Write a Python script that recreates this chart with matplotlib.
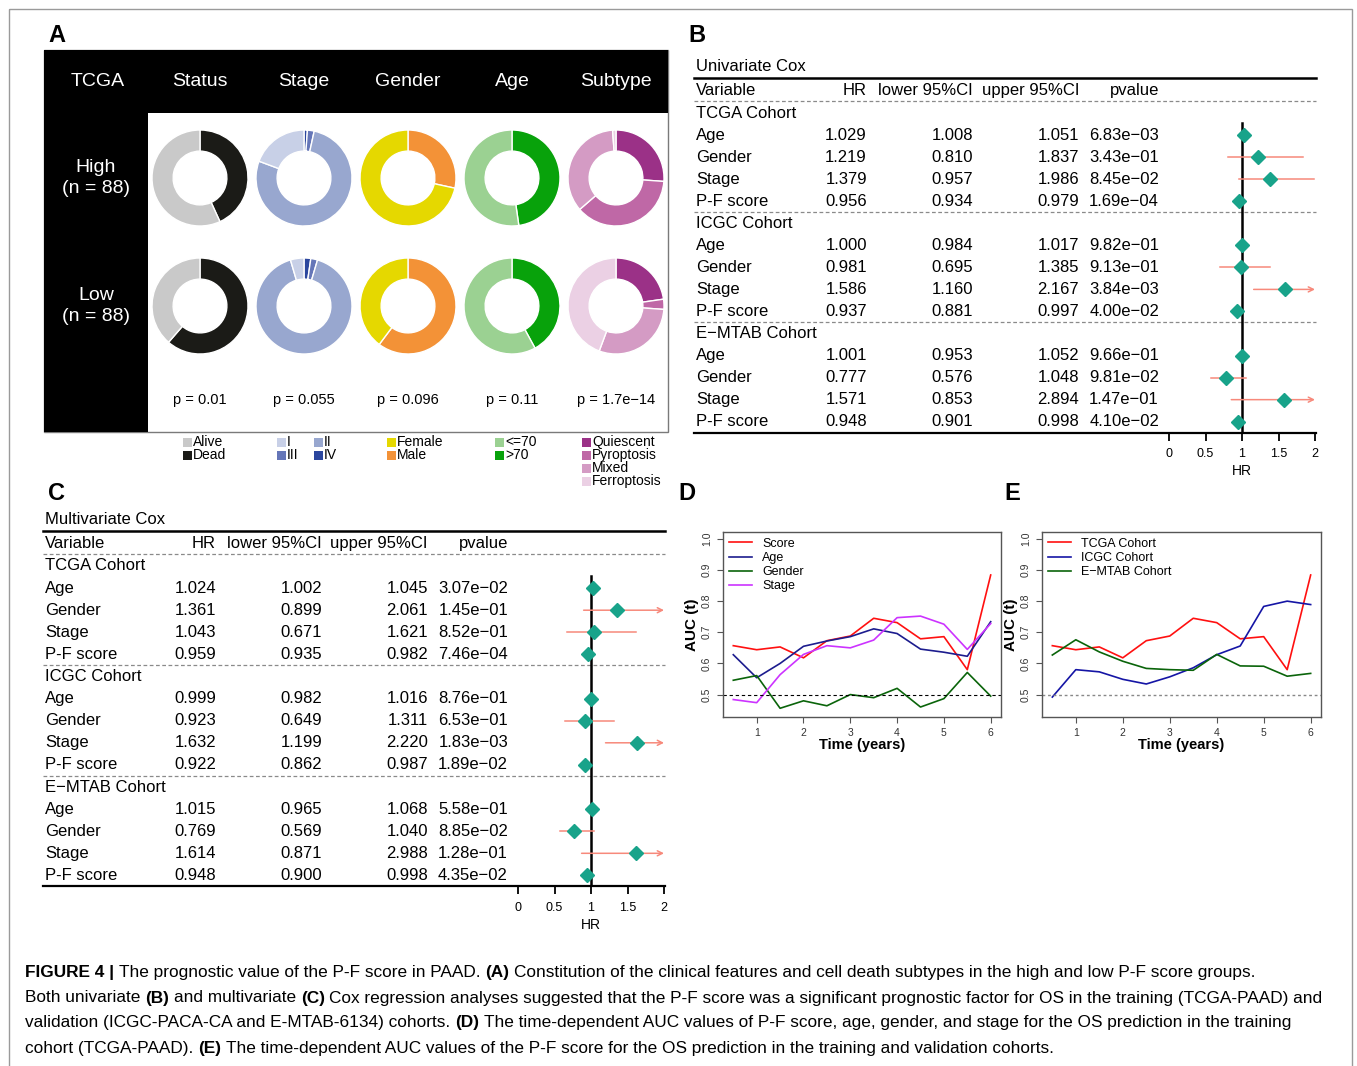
import matplotlib
matplotlib.use("Agg")
import matplotlib.pyplot as plt
import matplotlib.transforms as mtransforms
from matplotlib.patches import Rectangle
from matplotlib import font_manager

W, H = 1357, 1066
plt.rcParams['font.family'] = ['Liberation Sans', 'DejaVu Sans']

# ---------------- panel A: counts per group (legend order)
features = ["Status", "Stage", "Gender", "Age", "Subtype"]
group_labels = ["High\n(n = 88)", "Low\n(n = 88)"]
status_labels = ["Alive", "Dead"]
status_high = [50, 38]
status_low = [34, 54]
stage_labels = ["I", "II", "III", "IV"]
stage_high = [17, 68, 2, 1]
stage_low = [4, 80, 2, 2]
gender_labels = ["Female", "Male"]
gender_high = [63, 25]
gender_low = [35, 53]
age_labels = ["<=70", ">70"]
age_high = [46, 42]
age_low = [51, 37]
subtype_labels = ["Quiescent", "Pyroptosis", "Mixed", "Ferroptosis"]
subtype_high = [23, 33, 31, 1]
subtype_low = [20, 3, 26, 39]
pvalues_A = ["p = 0.01", "p = 0.055", "p = 0.096", "p = 0.11", "p = 1.7e\u221214"]

status_colors = ["#c9c9c9", "#1b1b17"]
stage_colors = ["#c8d0e7", "#98a7cf", "#6576b8", "#2b469e"]
gender_colors = ["#e5d800", "#f39237"]
age_colors = ["#9bd192", "#08a20b"]
subtype_colors = ["#9b3187", "#bf68a6", "#d49bc4", "#ebd0e4"]

# ---------------- panels B / C: Cox tables
cohorts = ["TCGA Cohort", "ICGC Cohort", "E\u2212MTAB Cohort"]
variables = ["Age", "Gender", "Stage", "P-F score"]

uni_hr = [1.029, 1.219, 1.379, 0.956, 1.000, 0.981, 1.586, 0.937, 1.001, 0.777, 1.571, 0.948]
uni_lo = [1.008, 0.810, 0.957, 0.934, 0.984, 0.695, 1.160, 0.881, 0.953, 0.576, 0.853, 0.901]
uni_up = [1.051, 1.837, 1.986, 0.979, 1.017, 1.385, 2.167, 0.997, 1.052, 1.048, 2.894, 0.998]
uni_p = ["6.83e-03", "3.43e-01", "8.45e-02", "1.69e-04", "9.82e-01", "9.13e-01",
         "3.84e-03", "4.00e-02", "9.66e-01", "9.81e-02", "1.47e-01", "4.10e-02"]

multi_hr = [1.024, 1.361, 1.043, 0.959, 0.999, 0.923, 1.632, 0.922, 1.015, 0.769, 1.614, 0.948]
multi_lo = [1.002, 0.899, 0.671, 0.935, 0.982, 0.649, 1.199, 0.862, 0.965, 0.569, 0.871, 0.900]
multi_up = [1.045, 2.061, 1.621, 0.982, 1.016, 1.311, 2.220, 0.987, 1.068, 1.040, 2.988, 0.998]
multi_p = ["3.07e-02", "1.45e-01", "8.52e-01", "7.46e-04", "8.76e-01", "6.53e-01",
           "1.83e-03", "1.89e-02", "5.58e-01", "8.85e-02", "1.28e-01", "4.35e-02"]

hr_ticks = [0, 0.5, 1, 1.5, 2]
hr_tick_labels = ["0", "0.5", "1", "1.5", "2"]

# ---------------- panels D / E: time-dependent AUC
years = [0.5, 1, 1.5, 2, 2.5, 3, 3.5, 4, 4.5, 5, 5.5, 6]
auc_score = [0.657, 0.644, 0.653, 0.618, 0.673, 0.688, 0.745, 0.731, 0.679, 0.686, 0.580, 0.884]
auc_age = [0.628, 0.554, 0.600, 0.655, 0.672, 0.686, 0.711, 0.696, 0.646, 0.636, 0.623, 0.734]
auc_gender = [0.546, 0.561, 0.456, 0.480, 0.464, 0.500, 0.490, 0.520, 0.460, 0.487, 0.571, 0.495]
auc_stage = [0.484, 0.474, 0.564, 0.629, 0.657, 0.650, 0.675, 0.747, 0.752, 0.726, 0.645, 0.728]
auc_tcga = auc_score
auc_icgc = [0.492, 0.580, 0.573, 0.549, 0.534, 0.557, 0.586, 0.628, 0.656, 0.783, 0.800, 0.789]
auc_emtab = [0.627, 0.676, 0.637, 0.607, 0.584, 0.580, 0.578, 0.629, 0.592, 0.591, 0.559, 0.568]

caption_lines = [
    [("FIGURE 4 |", True), ("The prognostic value of the P-F score in PAAD.", False), ("(A)", True),
     ("Constitution of the clinical features and cell death subtypes in the high and low P-F score groups.", False)],
    [("Both univariate", False), ("(B)", True), ("and multivariate", False), ("(C)", True),
     ("Cox regression analyses suggested that the P-F score was a significant prognostic factor for OS in the training (TCGA-PAAD) and", False)],
    [("validation (ICGC-PACA-CA and E-MTAB-6134) cohorts.", False), ("(D)", True),
     ("The time-dependent AUC values of P-F score, age, gender, and stage for the OS prediction in the training", False)],
    [("cohort (TCGA-PAAD).", False), ("(E)", True),
     ("The time-dependent AUC values of the P-F score for the OS prediction in the training and validation cohorts.", False)],
]


def pick_font(names):
    for name in names:
        try:
            font_manager.findfont(font_manager.FontProperties(family=name), fallback_to_default=False)
            return name
        except ValueError:
            pass
    return "DejaVu Sans"


fig = plt.figure(figsize=(W / 100, H / 100), dpi=100)


def px_axes(x0, y0, x1, y1):
    return fig.add_axes([x0 / W, 1 - y1 / H, (x1 - x0) / W, (y1 - y0) / H])


bg = fig.add_axes([0, 0, 1, 1])
bg.set_xlim(0, W)
bg.set_ylim(H, 0)
bg.axis("off")
bg.add_patch(Rectangle((9, 9), 1343, 1100, fill=False, ec="#9a9a9a", lw=1))

for letter, lx, ly in [("A", 48, 35), ("B", 688, 35), ("C", 48, 494), ("D", 678, 494), ("E", 1004, 494)]:
    bg.text(lx, ly, letter, fontsize=17, fontweight="bold", va="center", ha="left")

# ---------------- panel A
bg.add_patch(Rectangle((44, 50), 624, 382, fc="white", ec="#7a7a7a", lw=1))
bg.add_patch(Rectangle((44, 50), 624, 63, fc="black", ec="none"))
bg.add_patch(Rectangle((44, 50), 104, 382, fc="black", ec="none"))

col_x = [200, 304, 408, 512, 616]
row_y = [178, 306]
bg.text(98, 82, "TCGA", color="white", fontsize=14, ha="center", va="center")
for cx, name in zip(col_x, features):
    bg.text(cx, 82, name, color="white", fontsize=14, ha="center", va="center")
for cy, name in zip(row_y, group_labels):
    bg.text(96, cy, name, color="white", fontsize=14, ha="center", va="center", linespacing=1.25)

donut_data = [
    (status_high, status_low, status_colors, True),
    (stage_high, stage_low, stage_colors, True),
    (gender_high, gender_low, gender_colors, True),
    (age_high, age_low, age_colors, True),
    (subtype_high, subtype_low, subtype_colors, False),
]
r = 48
for cx, (high, low, cols, rev), ptxt in zip(col_x, donut_data, pvalues_A):
    for cy, vals in zip(row_y, [high, low]):
        ax = px_axes(cx - r, cy - r, cx + r, cy + r)
        v, c = (vals[::-1], cols[::-1]) if rev else (vals, cols)
        ax.pie(v, colors=c, startangle=90, counterclock=False, radius=1,
               wedgeprops=dict(width=0.44, edgecolor="white", linewidth=1))
        ax.set_xlim(-1, 1)
        ax.set_ylim(-1, 1)
    bg.text(cx, 400, ptxt, fontsize=10.5, ha="center", va="center")

legend_cols = [
    (183, [(442, "Alive", status_colors[0]), (455, "Dead", status_colors[1])]),
    (277, [(442, "I", stage_colors[0]), (455, "III", stage_colors[2])]),
    (314, [(442, "II", stage_colors[1]), (455, "IV", stage_colors[3])]),
    (387, [(442, "Female", gender_colors[0]), (455, "Male", gender_colors[1])]),
    (495, [(442, "<=70", age_colors[0]), (455, ">70", age_colors[1])]),
    (582, [(442 + 13 * i, lab, col) for i, (lab, col) in enumerate(zip(subtype_labels, subtype_colors))]),
]
for lx, entries in legend_cols:
    for ly, lab, col in entries:
        bg.add_patch(Rectangle((lx, ly - 4.5), 9, 9, fc=col, ec="none"))
        bg.text(lx + 10, ly, lab, fontsize=10, ha="left", va="center")


# ---------------- panels B / C
def draw_cox(x0, row0, pitch, title, hr, lo, up, pv):
    top_row, bot_row = -2.75, 14.5
    ax = px_axes(x0, row0 + pitch * top_row, x0 + 622, row0 + pitch * bot_row)
    ax.set_xlim(-475 / 73, 147 / 73)
    ax.set_ylim(bot_row, top_row)
    for s in ["top", "right", "left"]:
        ax.spines[s].set_visible(False)
    ax.spines["bottom"].set_linewidth(1.6)
    ax.set_yticks([])
    ax.set_xticks(hr_ticks)
    ax.set_xticklabels(hr_tick_labels)
    ax.tick_params(axis="x", length=6, width=1.3, labelsize=9, pad=5)
    ax.set_xlabel("HR", fontsize=10, labelpad=3)
    ax.xaxis.label.set_x((475 + 73) / 622)
    tr = mtransforms.blended_transform_factory(ax.transAxes, ax.transData)
    fs = 12
    ax.text(2 / 622, -2.1, title, transform=tr, fontsize=fs, va="center")
    ax.plot([0, 1], [-1.57, -1.57], transform=tr, color="black", lw=1.8, clip_on=False)
    header = [("Variable", 2, "left"), ("HR", 173, "right"), ("lower 95%CI", 279, "right"),
              ("upper 95%CI", 385, "right"), ("pvalue", 465, "right")]
    for txt, off, ha in header:
        ax.text(off / 622, -1.0, txt, transform=tr, fontsize=fs, va="center", ha=ha)
    for yl in [-0.53, 4.47, 9.5]:
        ax.plot([0, 1], [yl, yl], transform=tr, color="#8a8a8a", lw=0.9, ls=(0, (3, 2)), clip_on=False)
    ax.plot([1, 1], [0.45, bot_row], color="black", lw=1.8)
    rows = []
    for c, coh in enumerate(cohorts):
        ax.text(2 / 622, c * 5, coh, transform=tr, fontsize=fs, va="center")
        for v, var in enumerate(variables):
            i = c * 4 + v
            yrow = c * 5 + 1 + v
            rows.append(yrow)
            cells = [(var, 2, "left"), ("%.3f" % hr[i], 173, "right"), ("%.3f" % lo[i], 279, "right"),
                     ("%.3f" % up[i], 385, "right"), (pv[i].replace("-", "\u2212"), 465, "right")]
            for txt, off, ha in cells:
                ax.text(off / 622, yrow, txt, transform=tr, fontsize=fs, va="center", ha=ha)
            ci_col = "#f7897b"
            if up[i] > 2:
                ax.annotate("", xy=(2, yrow), xytext=(lo[i], yrow),
                            arrowprops=dict(arrowstyle="->", color=ci_col, lw=1.1,
                                            shrinkA=0, shrinkB=0, mutation_scale=9))
            else:
                ax.plot([lo[i], up[i]], [yrow, yrow], color=ci_col, lw=1.1)
    ax.plot(hr, rows, "D", color="#18a38a", markersize=7, zorder=4, clip_on=False)


draw_cox(694, 113, 22.05, "Univariate Cox", uni_hr, uni_lo, uni_up, uni_p)
draw_cox(43, 566, 22.1, "Multivariate Cox", multi_hr, multi_lo, multi_up, multi_p)


# ---------------- panels D / E
def draw_auc(x0, x1, series, dotted):
    ax = px_axes(x0, 532, x1, 717)
    for vals, col, lab in series:
        ax.plot(years, vals, color=col, lw=1.2, label=lab)
    if dotted:
        ax.axhline(0.5, color="#888888", lw=1, ls=(0, (2, 2)))
    else:
        ax.axhline(0.5, color="black", lw=0.8, ls=(0, (3, 2.5)))
    ax.set_xlim(0.28, 6.22)
    ax.set_ylim(0.428, 1.022)
    ax.set_xticks([1, 2, 3, 4, 5, 6])
    ax.set_yticks([0.5, 0.6, 0.7, 0.8, 0.9, 1.0])
    ax.set_yticklabels(["0.5", "0.6", "0.7", "0.8", "0.9", "1.0"], rotation=90, va="center")
    for s in ax.spines.values():
        s.set_color("#555555")
        s.set_linewidth(1)
    ax.tick_params(length=4, color="#555555", labelsize=7.5, labelcolor="#333333", pad=4)
    ax.set_xlabel("Time (years)", fontsize=10.5, fontweight="bold", labelpad=0)
    ax.set_ylabel("AUC (t)", fontsize=11, fontweight="bold", labelpad=2)
    ax.legend(loc="upper left", frameon=False, fontsize=9, handlelength=1.9, handletextpad=0.8,
              labelspacing=0.18, borderaxespad=0.15, borderpad=0.3)


draw_auc(723, 1001, [(auc_score, "#ff1010", "Score"), (auc_age, "#1c1c8e", "Age"),
                     (auc_gender, "#0a640a", "Gender"), (auc_stage, "#cc33ff", "Stage")], False)
draw_auc(1042, 1321, [(auc_tcga, "#ff1010", "TCGA Cohort"), (auc_icgc, "#1515a5", "ICGC Cohort"),
                      (auc_emtab, "#0a640a", "E\u2212MTAB Cohort")], True)

# ---------------- caption
cap_font = pick_font(["Liberation Sans Narrow", "Liberation Sans"])
renderer = fig.canvas.get_renderer()


def text_width(s, size, bold):
    t = bg.text(0, 0, s, fontsize=size, fontweight="bold" if bold else "normal", family=cap_font)
    w = t.get_window_extent(renderer).width
    t.remove()
    return w


def line_width(runs, size):
    sp = text_width("a a", size, False) - text_width("aa", size, False)
    return sum(text_width(s, size, b) for s, b in runs) + sp * (len(runs) - 1)


base = 12.0
cap_size = base * 1298 / line_width(caption_lines[1], base)
space = text_width("a a", cap_size, False) - text_width("aa", cap_size, False)
for k, runs in enumerate(caption_lines):
    x = 25
    y = 973 + 25 * k
    for s, b in runs:
        t = bg.text(x, y, s, fontsize=cap_size, fontweight="bold" if b else "normal",
                    family=cap_font, ha="left", va="center")
        x += t.get_window_extent(renderer).width + space

fig.savefig("out.png", dpi=100)
